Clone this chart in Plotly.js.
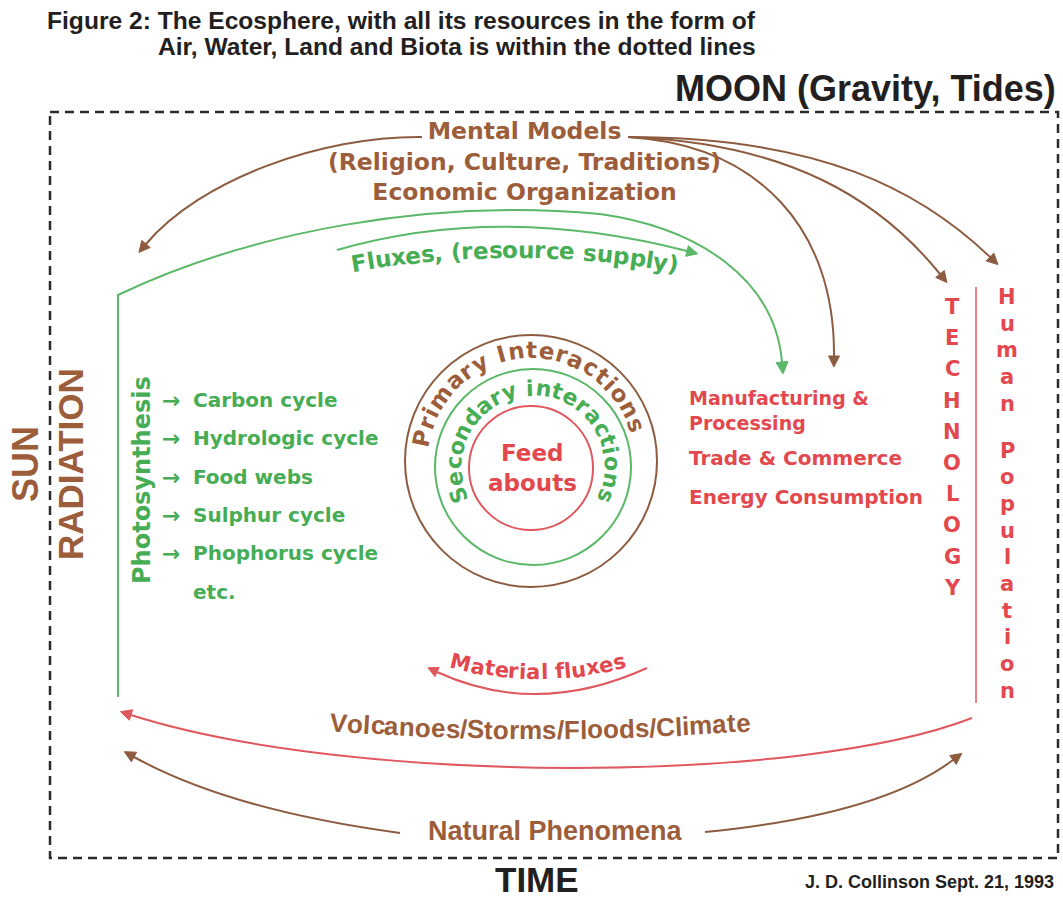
<!DOCTYPE html>
<html><head><meta charset="utf-8">
<script src="https://cdn.plot.ly/plotly-3.0.1.min.js"></script>
<style>html,body{margin:0;padding:0;background:#fff}#chart{width:1063px;height:899px}</style>
</head><body><div id="chart"></div>
<script>
// ---------- DATA (texts of the diagram) ----------
const titleLines = ["Figure 2: The Ecosphere, with all its resources in the form of",
                    "Air, Water, Land and Biota is within the dotted lines"];
const moonLabel = "MOON (Gravity, Tides)";
const sunLabels = ["SUN", "RADIATION"];
const timeLabel = "TIME";
const creditLabel = "J. D. Collinson Sept. 21, 1993";
const mentalModels = ["Mental Models", "(Religion, Culture, Traditions)", "Economic Organization"];
const fluxLabel = "Fluxes, (resource supply)";
const photoLabel = "Photosynthesis";
const cycleItems = ["Carbon cycle", "Hydrologic cycle", "Food webs", "Sulphur cycle", "Phophorus cycle", "etc."];
const ringLabels = ["Primary Interactions", "Secondary interactions"];
const feedLabels = ["Feed", "abouts"];
const humanActivities = ["Manufacturing &", "Processing", "Trade & Commerce", "Energy Consumption"];
const techLabel = "TECHNOLOGY";
const populationLabel = "Human Population";
const materialLabel = "Material fluxes";
const hazardLabel = "Volcanoes/Storms/Floods/Climate";
const naturalLabel = "Natural Phenomena";

// ---------- STYLE / GEOMETRY ----------
const W = 1063, H = 899;
const COL = {black:'#231f20', brown:'#9c5d3b', brownLine:'#8d5c40', green:'#46ad55',
             greenLine:'#5ab868', red:'#e2484e', redLine:'#e0585d', dash:'#2b2b2b'};
const SANS = '"Liberation Sans", Arial, sans-serif';
const DJ = '"DejaVu Sans", sans-serif';
const annotations = [], shapes = [];
const esc = s => s.replace(/&/g, '&amp;');

function txt(text, x, y, o) {
  o = o || {};
  annotations.push({text: o.raw ? text : esc(text), x: x, y: y, xref: 'x', yref: 'y', showarrow: false,
    xanchor: o.xa || 'center', yanchor: o.ya || 'middle', align: o.align || 'center',
    textangle: o.rot || 0, borderpad: 0,
    font: {family: o.fam || DJ, size: o.size || 20, color: o.color || COL.black, weight: 'bold'}});
}
const cv = document.createElement('canvas').getContext('2d');
function measure(ch, size, fam) { cv.font = 'bold ' + size + 'px ' + fam; return cv.measureText(ch).width; }

// text along a circle; bottom=false: text over the top of the circle, bottom=true: under it
function arcText(str, cx, cy, R, centerDeg, size, color, fam, bottom, track) {
  track = track || 0;
  const chars = Array.from(str);
  const ws = chars.map(c => measure(c, size, fam) + track);
  const total = ws.reduce((a, b) => a + b, 0);
  let acc = 0;
  const start = centerDeg * Math.PI / 180 - total / R / 2;
  chars.forEach((c, i) => {
    const th = start + (acc + ws[i] / 2) / R;
    acc += ws[i];
    if (c === ' ') return;
    const x = cx + R * Math.sin(th);
    const y = bottom ? cy + R * Math.cos(th) : cy - R * Math.cos(th);
    const rot = (bottom ? -th : th) * 180 / Math.PI;
    txt(c, x, y, {rot: rot, size: size, color: color, fam: fam});
  });
}
function curve(path, color, width) {
  shapes.push({type: 'path', xref: 'x', yref: 'y', path: path, line: {color: color, width: width || 2}});
}
function arrowHead(ex, ey, dx, dy, len, hw, color) {
  const L = Math.hypot(dx, dy), ux = dx / L, uy = dy / L;
  const tx = ex + ux * len, ty = ey + uy * len;
  const nx = -uy, ny = ux;
  const p = 'M' + tx + ',' + ty + ' L' + (ex + nx * hw) + ',' + (ey + ny * hw) +
            ' L' + (ex - nx * hw) + ',' + (ey - ny * hw) + ' Z';
  shapes.push({type: 'path', xref: 'x', yref: 'y', path: p, fillcolor: color, line: {color: color, width: 1}});
}

// dotted ecosphere box
shapes.push({type: 'rect', xref: 'x', yref: 'y', x0: 50, y0: 112, x1: 1058, y1: 858,
             line: {color: COL.dash, width: 2.5, dash: '9px,6px'}});

// title and outer labels
txt(titleLines[0], 757, 20, {xa: 'right', fam: SANS, size: 24.6});
txt(titleLines[1], 757, 46, {xa: 'right', fam: SANS, size: 24.6});
txt(moonLabel, 1057, 88, {xa: 'right', fam: SANS, size: 36});
txt(sunLabels[0], 25, 464, {rot: -90, fam: SANS, size: 36, color: COL.brown});
txt(sunLabels[1], 70, 464, {rot: -90, fam: SANS, size: 35, color: COL.brown});
txt(timeLabel, 537, 879, {fam: SANS, size: 35});
txt(creditLabel, 1055, 882, {xa: 'right', fam: SANS, size: 18});

// mental models block (one wrapped text)
txt(mentalModels.map(esc).join('<br>'), 524, 161, {size: 23.5, color: COL.brown, raw: true});

// brown arrows from mental models
curve('M422,137 C320,136 200,180 146,244', COL.brownLine); arrowHead(146, 244, -54, 64, 11, 5.5, COL.brownLine);
curve('M628,137 C760,145 835,230 834,356', COL.brownLine); arrowHead(834, 356, -1, 126, 11, 5.5, COL.brownLine);
curve('M628,137 C790,143 880,200 940,274', COL.brownLine); arrowHead(940, 274, 60, 74, 11, 5.5, COL.brownLine);
curve('M628,137 C820,137 920,190 990,257', COL.brownLine); arrowHead(990, 257, 70, 67, 11, 5.5, COL.brownLine);

// green resource-supply loop
curve('M118,697 L118,295 C250,232 430,198 600,214 C700,228 775,280 782,362', COL.greenLine);
arrowHead(782, 362, 7, 82, 12, 6, COL.greenLine);
curve('M337,250 Q500,203 687,251', COL.greenLine); arrowHead(687, 251, 187, 48, 11, 5.5, COL.greenLine);
arcText(fluxLabel, 515, 1180, 930, 0, 23, COL.green, DJ, false);

// left side: photosynthesis and cycles
txt(photoLabel, 142, 480, {rot: -90, size: 24, color: COL.green});
const cycleY = [400, 438, 477, 515, 553, 592];
cycleItems.forEach((s, i) => {
  if (i < cycleItems.length - 1) txt('→', 171, cycleY[i], {size: 22, color: COL.green});
  txt(s, 192, cycleY[i], {xa: 'left', size: 20, color: COL.green});
});

// interaction rings
shapes.push({type: 'circle', xref: 'x', yref: 'y', x0: 405, y0: 335, x1: 657, y1: 587, line: {color: COL.brownLine, width: 2}});
shapes.push({type: 'circle', xref: 'x', yref: 'y', x0: 435, y0: 369, x1: 631, y1: 565, line: {color: COL.greenLine, width: 2}});
shapes.push({type: 'circle', xref: 'x', yref: 'y', x0: 469, y0: 406, x1: 593, y1: 530, line: {color: COL.redLine, width: 2}});
arcText(ringLabels[0], 531, 461, 111, -4, 23, COL.brown, DJ, false, 2);
arcText(ringLabels[1], 533, 467, 79, 0, 22, COL.green, DJ, false, 1.6);
txt(feedLabels[0], 532, 453, {size: 23, color: COL.red});
txt(feedLabels[1], 532, 483, {size: 23, color: COL.red});

// human activities (first entry wraps onto a second line)
txt(esc(humanActivities[0]) + '<br>' + esc(humanActivities[1]), 688, 410,
    {xa: 'left', align: 'left', size: 19, color: COL.red, raw: true});
txt(humanActivities[2], 688, 458, {xa: 'left', size: 20, color: COL.red});
txt(humanActivities[3], 688, 497, {xa: 'left', size: 20, color: COL.red});

// technology / human population columns
Array.from(techLabel).forEach((c, i) => txt(c, 952, 307 + i * 31.2, {size: 21, color: COL.red}));
shapes.push({type: 'line', xref: 'x', yref: 'y', x0: 976, y0: 287, x1: 976, y1: 703, line: {color: COL.redLine, width: 1.5}});
let py = 297;
Array.from(populationLabel).forEach(c => {
  if (c === ' ') { py += 20; return; }
  txt(c, 1007, py, {size: 21, color: COL.red});
  py += 26.7;
});

// material fluxes
curve('M647,668 Q537,718 437,672', COL.redLine); arrowHead(437, 672, -100, -46, 10, 5, COL.redLine);
arcText(materialLabel, 538, 338, 334, 0, 21, COL.red, DJ, true);

// natural hazards arc
curve('M972,718 C800,785 350,785 131,715', COL.redLine); arrowHead(131, 715, -219, -70, 11, 5.5, COL.redLine);
arcText(hazardLabel, 540, 730 - 2800, 2800, 0, 26, COL.brown, SANS, true);

// natural phenomena arrows
txt(naturalLabel, 555, 831, {fam: SANS, size: 27, color: COL.brown});
curve('M400,833 Q230,810 134,757', COL.brownLine); arrowHead(134, 757, -96, -53, 11, 5.5, COL.brownLine);
curve('M705,832 Q880,815 953,760', COL.brownLine); arrowHead(953, 760, 73, -55, 11, 5.5, COL.brownLine);

const layout = {
  width: W, height: H, margin: {l: 0, r: 0, t: 0, b: 0, pad: 0},
  paper_bgcolor: '#ffffff', plot_bgcolor: '#ffffff', showlegend: false,
  xaxis: {range: [0, W], visible: false, fixedrange: true},
  yaxis: {range: [H, 0], visible: false, fixedrange: true},
  annotations: annotations, shapes: shapes
};
Plotly.newPlot('chart', [{type: 'scatter', x: [], y: [], hoverinfo: 'skip'}], layout,
               {staticPlot: true, displayModeBar: false});
</script></body></html>
